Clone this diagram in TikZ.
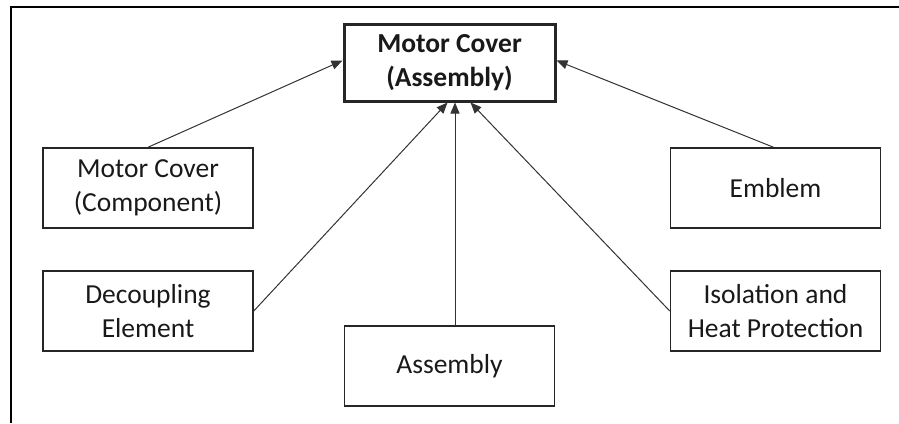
\documentclass[tikz,border=0pt]{standalone}
\usepackage{fontspec}
\setmainfont{Carlito}
\usetikzlibrary{arrows.meta}
\begin{document}
\begin{tikzpicture}[x=1pt,y=-1pt,
  box/.style={draw=black!85,line width=1.5pt,minimum width=210pt,minimum height=80pt,
    inner sep=0pt,align=center,font=\fontsize{27.5}{34}\selectfont,text=black!90},
  mainbox/.style={box,line width=3pt,minimum width=211pt,minimum height=77pt,font=\fontsize{27.5}{34}\selectfont\bfseries},
  conn/.style={draw=black!80,line width=1pt,-{Triangle[length=11pt,width=9pt]}}]
\useasboundingbox (0,0) rectangle (899,423);
\draw[line width=2.5pt] (11,423) -- (11,7) -- (899,7);
\node[mainbox] (top) at (449.5,62.5) {Motor Cover\\(Assembly)};
\node[box] (comp) at (148,188) {Motor Cover\\(Component)};
\node[box] (emb) at (775.5,188) {Emblem};
\node[box] (dec) at (148,311) {Decoupling\\Element};
\node[box] (iso) at (775.5,311) {Isolation and\\Heat Protection};
\node[box] (asm) at (449.5,366) {Assembly};
\draw[conn] (comp.north) -- ([yshift=2pt]top.west);
\draw[conn] ([xshift=-2pt]emb.north) -- ([yshift=2pt]top.east);
\draw[conn] (dec.east) -- ([xshift=-2pt]top.south);
\draw[conn] ([xshift=5.5pt]asm.north) -- ([xshift=5.5pt]top.south);
\draw[conn] (iso.west) -- ([xshift=21pt]top.south);
\end{tikzpicture}
\end{document}
